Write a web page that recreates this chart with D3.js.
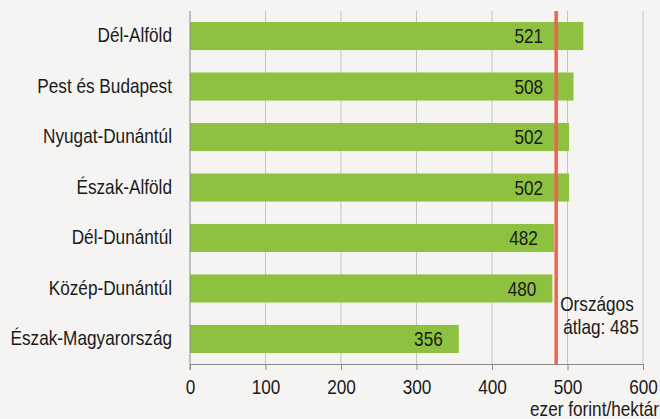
<!DOCTYPE html>
<html>
<head>
<meta charset="utf-8">
<script src="https://cdn.jsdelivr.net/npm/d3@7"></script>
<style>
  body { margin: 0; background: #f5f4f2; }
  svg { display: block; }
  text { font-family: "Liberation Sans", Arial, sans-serif; fill: #1a1a1a; }
</style>
</head>
<body>
<div id="chart"></div>
<script>
const regions = ['Dél-Alföld', 'Pest és Budapest', 'Nyugat-Dunántúl', 'Észak-Alföld', 'Dél-Dunántúl', 'Közép-Dunántúl', 'Észak-Magyarország'];
const values = [521, 508, 502, 502, 482, 480, 356];
const xTicks = [0, 100, 200, 300, 400, 500, 600];
const average = 485;
const averageLabel = ['Országos', 'átlag: 485'];
const unitLabel = 'ezer forint/hektár';

const width = 660;
const height = 419;
const margin = { top: 11, right: 17, bottom: 55, left: 190 };
const fontSize = '20px';
const squeeze = 0.86; // the original font is a narrow one

// squeeze a text horizontally around its own x
const narrow = (sel) => {
    sel.each(function () {
        const t = d3.select(this);
        const tx = +t.attr('x') || 0;
        t.attr('transform', `translate(${tx},0) scale(${squeeze},1) translate(${-tx},0)`);
    });
};

const svg = d3.select('#chart')
    .append('svg')
    .attr('width', width)
    .attr('height', height);

svg.append('rect')
    .attr('width', width)
    .attr('height', height)
    .attr('fill', '#f5f4f2');

const x = d3.scaleLinear()
    .domain([0, 600])
    .range([margin.left, width - margin.right]);

const y = d3.scaleBand()
    .domain(regions)
    .range([margin.top, height - margin.bottom])
    .paddingInner(0.444)
    .paddingOuter(0.218);

const plotBottom = height - margin.bottom;

// vertical grid lines
svg.append('g')
    .selectAll('line')
    .data(xTicks.slice(1))
    .join('line')
    .attr('x1', d => x(d))
    .attr('x2', d => x(d))
    .attr('y1', margin.top)
    .attr('y2', plotBottom)
    .attr('stroke', '#c4c4c4')
    .attr('stroke-width', 1);

// bars
svg.append('g')
    .selectAll('rect')
    .data(values)
    .join('rect')
    .attr('x', x(0))
    .attr('y', (d, i) => y(regions[i]))
    .attr('width', d => x(d) - x(0))
    .attr('height', y.bandwidth())
    .attr('fill', '#8dc13f');

// bottom axis
const xAxis = svg.append('g')
    .attr('transform', `translate(0,${plotBottom})`)
    .call(d3.axisBottom(x).tickValues(xTicks).tickSize(6).tickSizeOuter(0).tickPadding(10));
xAxis.select('.domain').attr('stroke', '#8a8a8a');
xAxis.selectAll('.tick line').attr('stroke', '#8a8a8a');
xAxis.selectAll('.tick text')
    .style('font-size', fontSize)
    .attr('fill', '#1a1a1a')
    .call(narrow);

// left axis line with category labels
const yAxis = svg.append('g')
    .attr('transform', `translate(${x(0)},0)`)
    .call(d3.axisLeft(y).tickSize(0).tickPadding(18));
yAxis.select('.domain')
    .attr('stroke', '#8a8a8a')
    .attr('d', `M0,${margin.top}V${plotBottom + 6}`);
yAxis.selectAll('.tick text')
    .style('font-size', fontSize)
    .attr('fill', '#1a1a1a')
    .call(narrow);

// average line
svg.append('line')
    .attr('x1', x(average))
    .attr('x2', x(average))
    .attr('y1', margin.top)
    .attr('y2', plotBottom)
    .attr('stroke', '#ef6352')
    .attr('stroke-width', 3.5);

// value labels
svg.append('g')
    .selectAll('text')
    .data(values)
    .join('text')
    .attr('x', d => Math.min(x(d) - 16, x(average) - 13))
    .attr('y', (d, i) => y(regions[i]) + y.bandwidth() / 2)
    .attr('dy', '0.36em')
    .attr('text-anchor', 'end')
    .style('font-size', fontSize)
    .text(d => d)
    .call(narrow);

// average annotation
svg.append('g')
    .selectAll('text')
    .data(averageLabel)
    .join('text')
    .attr('x', (d, i) => 597 + i * 4)
    .attr('y', (d, i) => 311 + i * 23.5)
    .attr('text-anchor', 'middle')
    .style('font-size', fontSize)
    .text(d => d)
    .call(narrow);

// unit label
svg.append('text')
    .attr('x', 659)
    .attr('y', 416)
    .attr('text-anchor', 'end')
    .style('font-size', fontSize)
    .text(unitLabel)
    .call(narrow);
</script>
</body>
</html>
